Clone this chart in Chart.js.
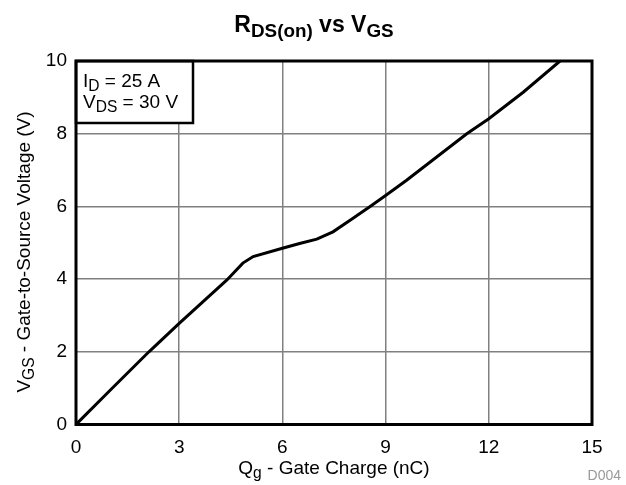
<!DOCTYPE html>
<html>
<head>
<meta charset="utf-8">
<script src="https://cdn.jsdelivr.net/npm/chart.js@4"></script>
<style>
  html, body { margin: 0; padding: 0; background: #fff; }
  #wrap { width: 626px; height: 485px; }
</style>
</head>
<body>
<div id="wrap"><canvas id="chart" width="626" height="485"></canvas></div>
<script>
// Gate charge curve
const gateCharge = [0, 1, 2.12, 3, 4.38, 4.85, 5.15, 6, 6.5, 7, 7.47, 8, 8.55, 9, 9.61, 11.36, 12, 13, 14.07];
const gateVoltage = [0, 0.95, 2, 2.78, 3.97, 4.44, 4.62, 4.85, 4.98, 5.1, 5.3, 5.64, 6.0, 6.3, 6.72, 8.0, 8.41, 9.14, 10];
const xTicks = [0, 3, 6, 9, 12, 15];
const yTicks = [0, 2, 4, 6, 8, 10];

const FONT = "'Liberation Sans', Arial, Helvetica, sans-serif";
const SUB = 0.82;

function richWidth(ctx, parts, size, bold) {
    let w = 0;
    parts.forEach(p => {
        const s = p.sub ? size * SUB : size;
        ctx.font = (bold ? 'bold ' : '') + s + 'px ' + FONT;
        w += ctx.measureText(p.t).width;
    });
    return w;
}

function drawRich(ctx, parts, x, y, size, bold, align) {
    const total = richWidth(ctx, parts, size, bold);
    let cx = align === 'center' ? x - total / 2 : x;
    ctx.textBaseline = 'alphabetic';
    ctx.textAlign = 'left';
    parts.forEach(p => {
        const s = p.sub ? size * SUB : size;
        ctx.font = (bold ? 'bold ' : '') + s + 'px ' + FONT;
        ctx.fillText(p.t, cx, p.sub ? y + size * 0.22 : y);
        cx += ctx.measureText(p.t).width;
    });
}

const decorations = {
    id: 'decorations',
    afterDatasetsDraw(chart) {
        const ctx = chart.ctx;
        const a = chart.chartArea;
        ctx.save();

        // note box
        ctx.fillStyle = '#fff';
        ctx.fillRect(a.left, a.top, 117, 62);
        ctx.strokeStyle = '#000';
        ctx.lineWidth = 2.5;
        ctx.strokeRect(a.left, a.top, 117, 62);
        ctx.fillStyle = '#000';
        drawRich(ctx, [{ t: 'I' }, { t: 'D', sub: true }, { t: ' = 25 A' }], a.left + 7, a.top + 26, 19, false, 'left');
        drawRich(ctx, [{ t: 'V' }, { t: 'DS', sub: true }, { t: ' = 30 V' }], a.left + 7, a.top + 47, 19, false, 'left');

        // frame
        ctx.lineWidth = 3;
        ctx.strokeRect(a.left, a.top, a.right - a.left, a.bottom - a.top);

        // title
        drawRich(ctx, [{ t: 'R' }, { t: 'DS(on)', sub: true }, { t: ' vs V' }, { t: 'GS', sub: true }], 314, 32, 23, true, 'center');

        // axis titles
        drawRich(ctx, [{ t: 'Q' }, { t: 'g', sub: true }, { t: ' - Gate Charge (nC)' }], (a.left + a.right) / 2, 474, 19, false, 'center');
        ctx.save();
        ctx.translate(30, 252);
        ctx.rotate(-Math.PI / 2);
        drawRich(ctx, [{ t: 'V' }, { t: 'GS', sub: true }, { t: ' - Gate-to-Source Voltage (V)' }], 0, 0, 19, false, 'center');
        ctx.restore();

        // figure id
        ctx.fillStyle = '#999';
        ctx.font = '14px ' + FONT;
        ctx.textAlign = 'right';
        ctx.fillText('D004', 621, 480);
        ctx.restore();
    }
};

new Chart(document.getElementById('chart'), {
    type: 'line',
    data: {
        datasets: [{
            data: gateCharge.map((q, i) => ({ x: q, y: gateVoltage[i] })),
            borderColor: '#000',
            borderWidth: 3,
            pointRadius: 0,
            tension: 0,
            fill: false
        }]
    },
    options: {
        responsive: false,
        animation: false,
        events: [],
        layout: { padding: { top: 61, right: 34, left: 0, bottom: 0 } },
        plugins: { legend: { display: false }, tooltip: { enabled: false } },
        scales: {
            x: {
                type: 'linear',
                min: 0,
                max: 15,
                afterFit: s => { s.height = 60.5; },
                afterBuildTicks: s => { s.ticks = xTicks.map(v => ({ value: v })); },
                grid: { color: '#808080', lineWidth: 1.5, drawTicks: false },
                border: { display: false },
                ticks: { color: '#000', padding: 12, font: { family: FONT, size: 19 } }
            },
            y: {
                type: 'linear',
                min: 0,
                max: 10,
                afterFit: s => { s.width = 76; },
                afterBuildTicks: s => { s.ticks = yTicks.map(v => ({ value: v })); },
                grid: { color: '#808080', lineWidth: 1.5, drawTicks: false },
                border: { display: false },
                ticks: { color: '#000', padding: 9, font: { family: FONT, size: 19 } }
            }
        }
    },
    plugins: [decorations]
});
</script>
</body>
</html>
